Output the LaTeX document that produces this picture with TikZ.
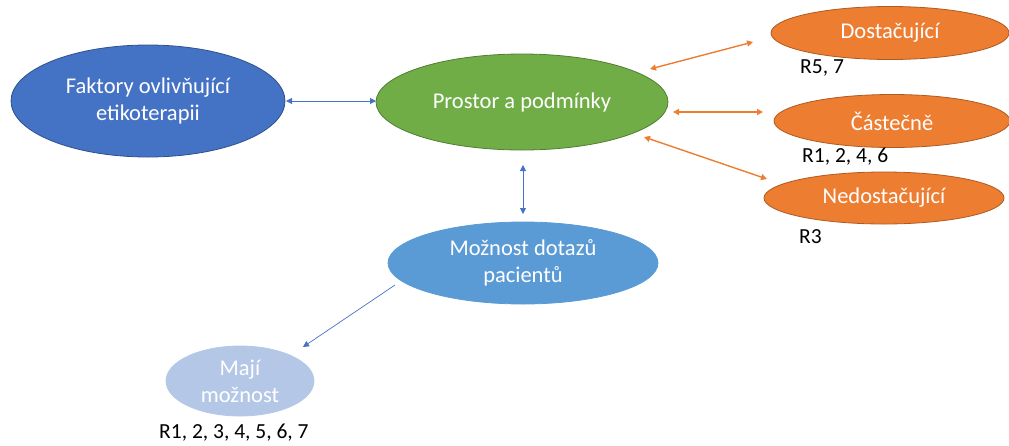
\documentclass[tikz,border=0pt]{standalone}
\usepackage{fontspec}
\setmainfont{Carlito}
\usetikzlibrary{shapes.geometric,arrows.meta}
\definecolor{dkblue}{HTML}{4472C4}
\definecolor{dkblueline}{HTML}{2F528F}
\definecolor{grn}{HTML}{70AD47}
\definecolor{grnline}{HTML}{507E32}
\definecolor{org}{HTML}{ED7D31}
\definecolor{orgline}{HTML}{AE5A21}
\definecolor{midblue}{HTML}{5B9BD5}
\definecolor{ltblue}{HTML}{B4C7E7}
\tikzset{
  bubble/.style={ellipse, inner sep=0pt, align=center, text=white,
    font=\fontsize{22.5}{27}\selectfont, line width=0.8pt},
  reflabel/.style={anchor=west, inner sep=0pt, text=black,
    font=\fontsize{21.5}{25}\selectfont},
  bluelink/.style={draw=dkblue, line width=0.9pt,
    arrows={Triangle[length=6pt,width=6pt]-Triangle[length=6pt,width=6pt]}},
  bluelinkone/.style={draw=dkblue, line width=0.7pt,
    -{Triangle[length=6pt,width=6pt]}},
  orglink/.style={draw=org, line width=1.4pt,
    arrows={Triangle[length=6pt,width=6pt]-Triangle[length=6pt,width=6pt]}}
}
\begin{document}
\begin{tikzpicture}[x=1pt,y=-1pt]
\useasboundingbox (0,0) rectangle (1009,445);

% main bubbles
\node[bubble, fill=dkblue, draw=dkblueline, minimum width=274pt, minimum height=112pt]
  (faktory) at (148,101) {Faktory ovlivňující\\etikoterapii};
\node[bubble, fill=grn, draw=grnline, minimum width=292pt, minimum height=96pt]
  (prostor) at (522,102) {Prostor a podmínky};
\node[bubble, fill=midblue, draw=midblue, minimum width=270pt, minimum height=82pt]
  (dotazy) at (523,263) {Možnost dotazů\\pacientů};
\node[bubble, fill=ltblue, draw=ltblue, minimum width=148pt, minimum height=70pt]
  (maji) at (240,381) {Mají\\možnost};

% outcome bubbles
\node[bubble, fill=org, draw=orgline, minimum width=238pt, minimum height=53pt]
  (dost) at (890,33) {Dostačující};
\node[bubble, fill=org, draw=orgline, minimum width=236pt, minimum height=53pt]
  (cast) at (892,121) {Částečně};
\node[bubble, fill=org, draw=orgline, minimum width=240pt, minimum height=52pt]
  (nedost) at (884,198) {Nedostačující};

% respondent labels
\node[reflabel] (rdost) at (800,68) {R5, 7};
\node[reflabel] (rcast) at (802,157) {R1, 2, 4, 6};
\node[reflabel] (rnedost) at (799,237) {R3};
\node[reflabel] (rmaji) at (159,433) {R1, 2, 3, 4, 5, 6, 7};

% connector end points
\coordinate (fkE) at (286,101);
\coordinate (prW) at (376,101);
\coordinate (prS) at (523,165);
\coordinate (dtN) at (523,214);
\coordinate (dtW) at (395,285);
\coordinate (mjNE) at (303,347);
\coordinate (prNE) at (650,69);
\coordinate (dsW) at (753,42);
\coordinate (prE) at (673,112);
\coordinate (csW) at (763,112);
\coordinate (prSE) at (644,137);
\coordinate (ndW) at (767,179);

% connectors
\draw[bluelink] (fkE) -- (prW);
\draw[bluelink] (prS) -- (dtN);
\draw[bluelinkone] (dtW) -- (mjNE);
\draw[orglink] (prNE) -- (dsW);
\draw[orglink] (prE) -- (csW);
\draw[orglink] (prSE) -- (ndW);
\end{tikzpicture}
\end{document}
